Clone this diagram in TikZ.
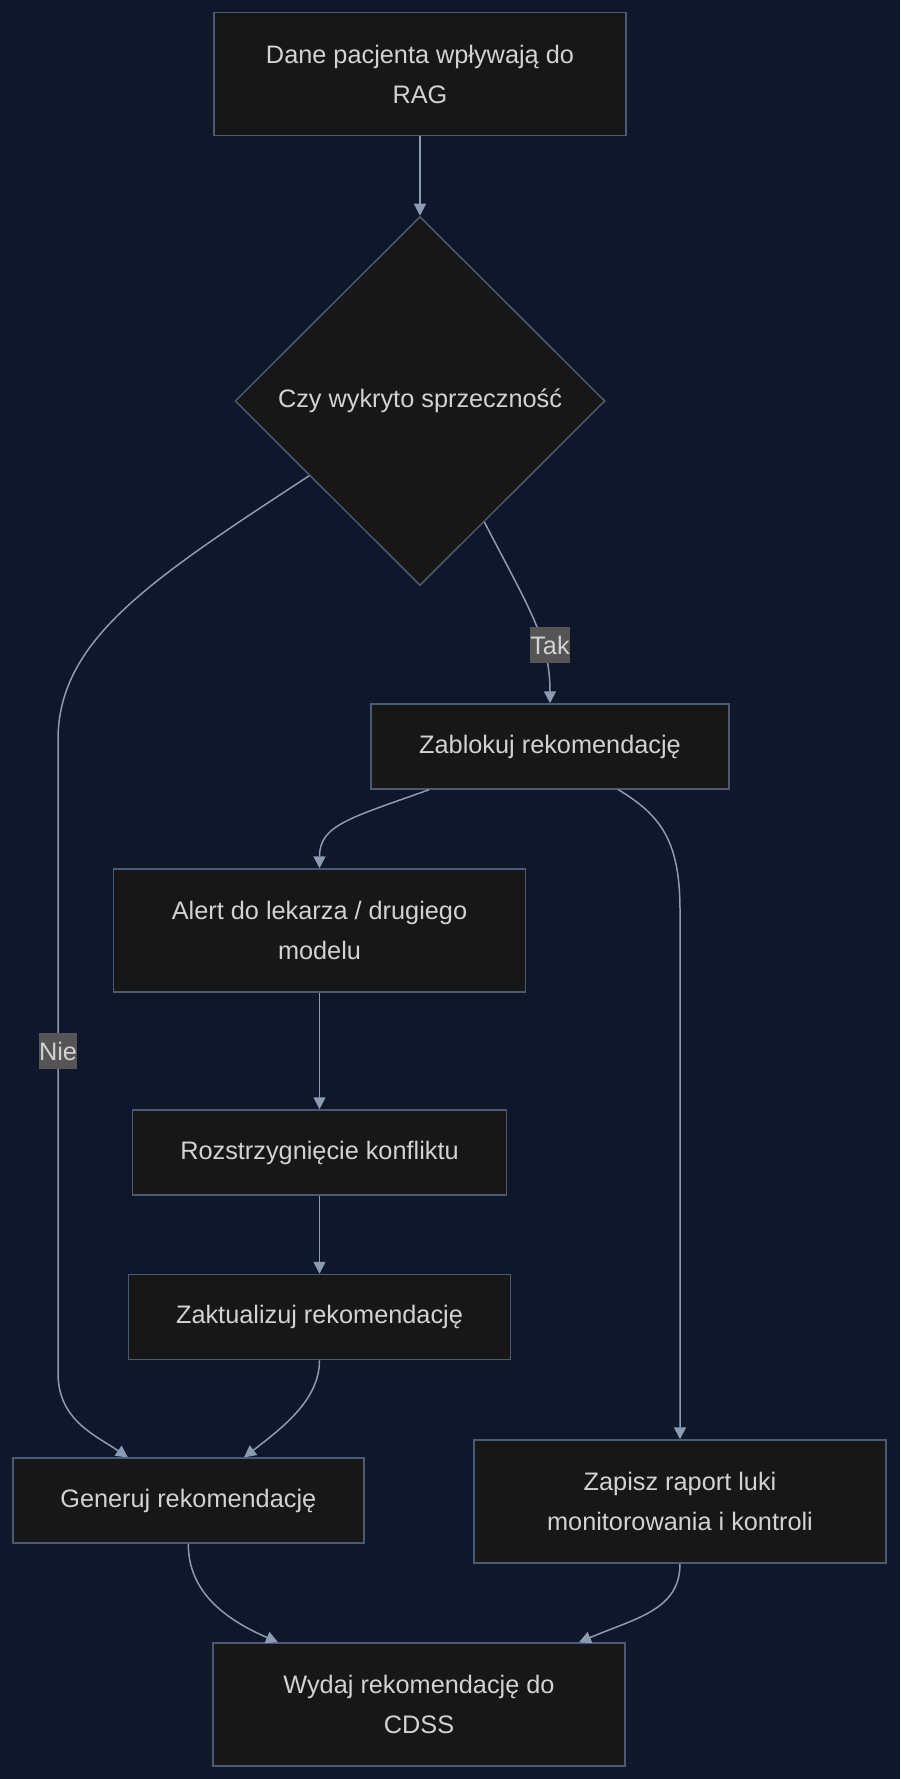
\documentclass[tikz,border=0pt]{standalone}
\usepackage{fontspec}
\setmainfont{Liberation Sans}
\usetikzlibrary{shapes.geometric,arrows.meta}
\definecolor{bgc}{HTML}{0F172A}
\definecolor{boxc}{HTML}{171717}
\definecolor{edgc}{HTML}{4B5A72}
\definecolor{arrc}{HTML}{8C9BB4}
\definecolor{txtc}{HTML}{D2D2D2}
\definecolor{labc}{HTML}{555555}
\begin{document}
\begin{tikzpicture}[x=1pt,y=-1pt,
  box/.style={rectangle,fill=boxc,draw=edgc,line width=1.5pt,inner sep=0pt,text=txtc,align=center,
    font=\fontsize{25.3}{40}\selectfont,minimum height=85pt},
  tall/.style={box,minimum width=412pt,minimum height=123pt},
  dec/.style={box,diamond,minimum width=370pt,minimum height=369pt},
  a/.style={draw=arrc,line width=1.5pt,-{Triangle[length=12pt,width=12pt]}},
  lbl/.style={fill=labc,text=txtc,inner xsep=0.5pt,inner ysep=0pt,minimum height=36pt,
    font=\fontsize{25.3}{30}\selectfont}]
  % background and page size
  \fill[bgc] (0,0) rectangle (900,1779);
  \useasboundingbox (0,0) rectangle (900,1779);
  % nodes
  \node[tall] (dane) at (420,74) {Dane pacjenta wpływają do\\RAG};
  \node[dec] (czy) at (420,401) {Czy wykryto sprzeczność};
  \node[box,minimum width=358pt] (zab) at (550,746.5) {Zablokuj rekomendację};
  \node[tall] (alert) at (319.5,930.5) {Alert do lekarza / drugiego\\modelu};
  \node[box,minimum width=374pt] (roz) at (319.5,1152.5) {Rozstrzygnięcie konfliktu};
  \node[box,minimum width=382pt] (zak) at (319.5,1317) {Zaktualizuj rekomendację};
  \node[box,minimum width=351pt] (gen) at (188.3,1500.7) {Generuj rekomendację};
  \node[tall] (zap) at (680,1501.5) {Zapisz raport luki\\monitorowania i kontroli};
  \node[tall] (wyd) at (419,1704.5) {Wydaj rekomendację do\\CDSS};
  % connectors
  \draw[a] (dane.south) -- (czy.north);
  \draw[a] (czy.-62) .. controls (530,610) and (550,640) .. (zab.north);
  \draw[a] (czy.214) .. controls (150,580) and (58,640) .. (58,740) -- (58,1373)
    .. controls (58,1420) and (95,1435) .. ([xshift=-60.3pt]gen.north);
  \draw[a] ([xshift=-121pt]zab.south) .. controls (350,818) and (319.5,825) .. (alert.north);
  \draw[a] ([xshift=68.5pt]zab.south) .. controls (660,815) and (680,840) .. (680,910) -- (zap.north);
  \draw[a] (alert.south) -- (roz.north);
  \draw[a] (roz.south) -- (zak.north);
  \draw[a] (zak.south) .. controls (319.5,1400) and (282,1428) .. ([xshift=55.7pt]gen.north);
  \draw[a] (gen.south) .. controls (188.3,1590) and (222,1618) .. ([xshift=-141pt]wyd.north);
  \draw[a] (zap.south) .. controls (680,1610) and (636,1618) .. ([xshift=160pt]wyd.north);
  % edge labels
  \node[lbl] (tak) at (550,645) {Tak};
  \node[lbl] (nie) at (58,1051) {Nie};
\end{tikzpicture}
\end{document}
